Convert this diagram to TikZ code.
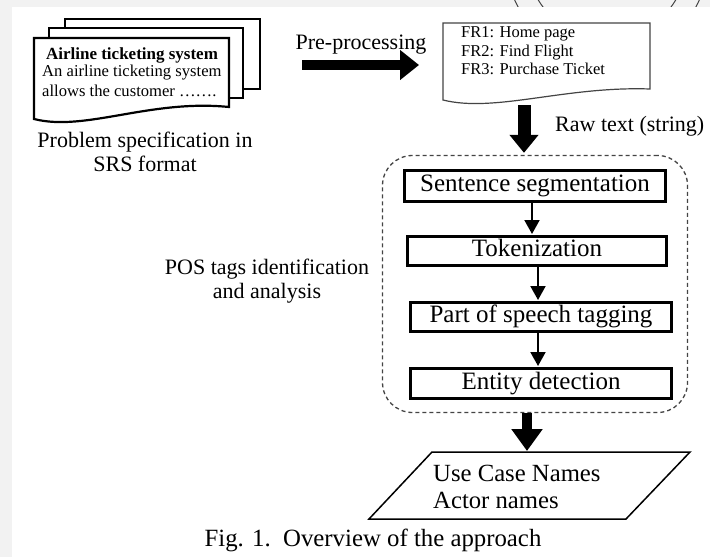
\documentclass[tikz,border=0pt]{standalone}
\usepackage{fontspec}
\setmainfont{Liberation Serif}
\usetikzlibrary{arrows.meta}
\newcommand{\fsz}[1]{\fontsize{#1}{#1}\selectfont}
\definecolor{pagegray}{HTML}{F2F2F2}
\definecolor{inkgray}{HTML}{444444}
\begin{document}
\begin{tikzpicture}[x=1pt,y=-1pt,
  label/.style={inner sep=0pt, font=\fsz{22}},
  stagebox/.style={draw, line width=3pt, inner sep=0pt, font=\fsz{25},
    text height=16.5pt, text depth=5pt},
  sheet/.style={draw, fill=white, line width=1.6pt},
  flowarrow/.style={line width=2pt, -{Triangle[width=15pt,length=14pt]}},
  blockarrow/.style={line width=#1, -{Triangle[width=29pt,length=19pt]}},
]
\useasboundingbox (0,0) rectangle (710,557);
% page background and the white figure panel
\fill[pagegray] (0,0) rectangle (710,557);
\begin{scope}
  \clip (0,0) rectangle (710,7);
  \draw[inkgray, line width=1pt] (607,-41) circle[radius=101pt];
  \draw[inkgray, line width=1pt] (607,-41) circle[radius=80pt];
\end{scope}
\fill[white] (12,7) rectangle (710,557);

% stack of specification sheets
\draw[sheet] (65,19) rectangle (260,89);
\draw[sheet] (49,28) rectangle (243,98);
\draw[fill=white, line width=2.2pt, line join=miter]
  (34,38) -- (229,38) -- (229,107)
  .. controls (150,99) and (85,132) .. (34,119) -- cycle;
\node[inner sep=0pt, font=\fsz{17}\bfseries, anchor=base] (spectitle) at (132,59) {Airline ticketing system};
\node[inner sep=0pt, font=\fsz{16.6}, anchor=base west] (specline1) at (42,76) {An airline ticketing system};
\node[inner sep=0pt, font=\fsz{16.6}, anchor=base west] (specline2) at (42,96) {allows the customer …….};
\node[label, anchor=base] (speccap1) at (145,147) {Problem specification in};
\node[label, anchor=base] (speccap2) at (145,171) {SRS format};

% pre-processing arrow
\coordinate (ppstart) at (302,65);
\coordinate (ppend) at (419,65);
\draw[blockarrow=10pt] (ppstart) -- (ppend);
\node[label, anchor=base] (pplabel) at (361,49) {Pre-processing};

% functional requirements sheet
\draw[inkgray, line width=1.2pt, fill=white]
  (443,23) -- (650,23) -- (650,89)
  .. controls (565,86) and (495,113) .. (443,100) -- cycle;
\node[inner sep=0pt, font=\fsz{16.5}, anchor=base west] (fr1) at (461,37) {FR1: Home page};
\node[inner sep=0pt, font=\fsz{16.5}, anchor=base west] (fr2) at (461,56) {FR2: Find Flight};
\node[inner sep=0pt, font=\fsz{16.5}, anchor=base west] (fr3) at (461,74) {FR3: Purchase Ticket};
\coordinate (frbottom) at (524,105);

% POS tagging pipeline
\node[draw=inkgray, dashed, dash pattern=on 4pt off 3pt, line width=1.3pt,
  rounded corners=30pt, minimum width=305pt, minimum height=257pt] (pipe) at (535,284) {};
\draw[line width=13pt, -{Triangle[width=28pt,length=18pt]}, shorten >=2pt] (frbottom) -- (pipe.north -| frbottom);
\node[label, anchor=base west] (rawlabel) at (555,131) {Raw text (string)};

\node[stagebox, minimum width=261pt, minimum height=31pt] (seg) at (535,186) {Sentence segmentation};
\node[stagebox, minimum width=259pt, minimum height=29pt] (tok) at (537,251) {Tokenization};
\node[stagebox, minimum width=261pt, minimum height=29pt] (pos) at (541,317) {Part of speech tagging};
\node[stagebox, minimum width=261pt, minimum height=30pt] (ent) at (541,383.5) {Entity detection};

\coordinate (colA) at (532,0);
\coordinate (colB) at (538,0);
\draw[flowarrow, shorten >=1pt] (seg.south -| colA) -- (tok.north -| colA);
\draw[flowarrow, shorten >=1pt] (tok.south -| colB) -- (pos.north -| colB);
\draw[flowarrow, shorten >=1pt] (pos.south -| colB) -- (ent.north -| colB);

\node[label, anchor=base] (poslabel1) at (267,274) {POS tags identification};
\node[label, anchor=base] (poslabel2) at (267,298) {and analysis};

% extracted output
\draw[line width=1.5pt, line join=miter] (432,452) -- (690,452) -- (626,519) -- (369,519) -- cycle;
\coordinate (outtop) at (527,452);
\draw[line width=10pt, -{Triangle[width=30pt,length=22pt]}, shorten >=1pt] (pipe.south -| outtop) -- (outtop);
\node[inner sep=0pt, font=\fsz{24.7}, anchor=base west] (uclabel) at (433,481) {Use Case Names};
\node[inner sep=0pt, font=\fsz{24.7}, anchor=base west] (actlabel) at (433,508) {Actor names};

% caption
\node[inner sep=0pt, font=\fsz{24.8}, anchor=base] (caption) at (373,546) {Fig. 1.\ \ Overview of the approach};
\end{tikzpicture}
\end{document}
